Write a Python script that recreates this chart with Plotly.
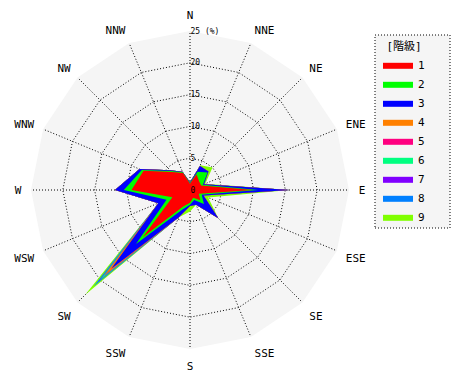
import plotly.graph_objects as go

directions = ["N", "NNE", "NE", "ENE", "E", "ESE", "SE", "SSE",
              "S", "SSW", "SW", "WSW", "W", "WNW", "NW", "NNW"]
class_names = ["1", "2", "3", "4", "5", "6", "7", "8", "9"]

# frequency (%) per direction for each class
c1 = [1.0, 2.7, 2.0, 1.9, 9.9, 1.5, 2.3, 1.3, 2.0, 2.8, 10.5, 3.0, 9.2, 7.9, 4.0, 2.9]
c2 = [0.1, 0.4, 1.9, 0.3, 0.8, 0.5, 0.8, 0.4, 0.3, 0.6, 1.5, 1.0, 1.2, 0.3, 0.2, 0.1]
c3 = [0.1, 1.0, 0.2, 0.2, 5.0, 0.3, 3.2, 0.8, 0.2, 1.3, 5.5, 1.4, 1.4, 0.4, 0.2, 0.1]
c4 = [0, 0, 0, 0, 0, 0, 0, 0, 0, 0, 1.2, 0, 0, 0, 0, 0]
c5 = [0, 0, 0, 0, 0, 0, 0, 0, 0, 0, 0.4, 0, 0, 0, 0, 0]
c6 = [0, 0, 0, 0, 0, 0, 0, 0, 0, 0, 1.0, 0, 0, 0, 0, 0]
c7 = [0, 0, 0, 0, 0, 0, 0, 0, 0, 0, 0.3, 0, 0, 0, 0, 0]
c8 = [0, 0, 0, 0, 0, 0, 0, 0, 0, 0, 1.0, 0, 0, 0, 0, 0]
c9 = [0, 0.1, 0.9, 0.2, 0, 0.8, 0, 0, 0.9, 0, 1.9, 0, 0, 0, 0, 0]

classes = [c1, c2, c3, c4, c5, c6, c7, c8, c9]
colors = ["#ff0000", "#00ff00", "#0000ff", "#ff8000", "#ff0080",
          "#00ff80", "#8000ff", "#0080ff", "#80ff00"]

radial_ticks = [0, 5, 10, 15, 20, 25]
radial_text = ["0", "5", "10", "15", "20", "25 (%)"]

# cumulative totals
cum = []
run = [0.0] * len(directions)
for c in classes:
    run = [a + b for a, b in zip(run, c)]
    cum.append(run)

FONT = "DejaVu Sans Mono, Noto Sans CJK JP, monospace"
DOT = "1px,2px"

fig = go.Figure()
for i in range(len(classes) - 1, -1, -1):
    fig.add_trace(go.Scatterpolar(
        r=cum[i] + [cum[i][0]],
        theta=directions + [directions[0]],
        mode="lines",
        fill="toself",
        fillcolor=colors[i],
        line=dict(color=colors[i], width=0),
        name=class_names[i],
        hoverinfo="skip",
    ))

W, H = 470, 380
cx, cy, R = 190, 190, 159
fig.update_layout(
    width=W, height=H,
    margin=dict(l=0, r=0, t=0, b=0),
    paper_bgcolor="white",
    font=dict(family=FONT, size=11, color="black"),
    polar=dict(
        domain=dict(x=[(cx - R) / W, (cx + R) / W], y=[1 - (cy + R) / H, 1 - (cy - R) / H]),
        bgcolor="#f5f5f5",
        gridshape="linear",
        angularaxis=dict(
            type="category", categoryarray=directions,
            rotation=90, direction="clockwise",
            showline=False, linecolor="black",
            gridcolor="black", griddash=DOT, gridwidth=1,
            ticks="outside", ticklen=7, tickcolor="rgba(0,0,0,0)",
            tickfont=dict(family=FONT, size=11, color="black"),
        ),
        radialaxis=dict(
            range=[0, 25], angle=90, tickangle=90,
            tickvals=radial_ticks, ticktext=radial_text,
            showline=False, ticks="",
            gridcolor="black", griddash=DOT, gridwidth=1,
            tickfont=dict(family=FONT, size=8, color="black"),
        ),
    ),
    legend=dict(
        x=378 / W, y=1 - 36 / H, xanchor="left", yanchor="top",
        traceorder="reversed",
        bgcolor="rgba(0,0,0,0)", borderwidth=0,
        title=dict(text="[階級]", side="top center",
                   font=dict(family=FONT, size=11, color="black")),
        font=dict(family=FONT, size=11, color="black"),
        itemwidth=30,
    ),
    shapes=[dict(
        type="rect", xref="paper", yref="paper",
        x0=375 / W, x1=450 / W, y0=1 - 228 / H, y1=1 - 35 / H,
        fillcolor="#f5f5f5", line=dict(color="black", width=1, dash=DOT),
        layer="below",
    )],
)

fig.write_html("out.html", config={"displayModeBar": False},
               post_script="document.body.style.margin='0px';")
